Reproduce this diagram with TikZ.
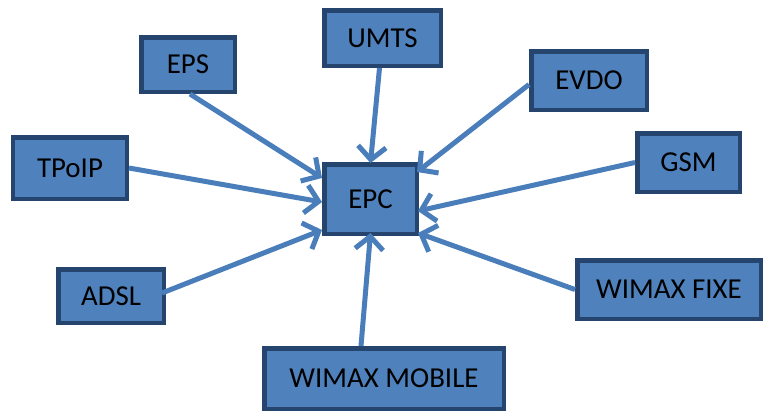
\documentclass[tikz,border=0pt]{standalone}
\usepackage{fontspec}
\setmainfont{Carlito}
\usetikzlibrary{arrows.meta}
\definecolor{boxfill}{HTML}{4F81BD}
\definecolor{boxline}{HTML}{26456E}
\definecolor{arrcol}{HTML}{4A7EBB}
\begin{document}
\begin{tikzpicture}[x=1bp,y=-1bp,
  box/.style={draw=boxline,fill=boxfill,line width=4.5bp,inner sep=0pt,
    font=\fontsize{29}{32}\selectfont,text=black},
  arr/.style={draw=arrcol,line width=5bp,-{Straight Barb[length=13bp,width=28bp,line width=5bp]}}]
\useasboundingbox (0,0) rectangle (763,412);
\fill[white] (0,0) rectangle (763,412);
\node[box,minimum width=93.5bp,minimum height=54.5bp] (eps) at (188,64.5) {EPS};
\node[box,minimum width=116.5bp,minimum height=55.5bp] (umts) at (382.5,38) {UMTS};
\node[box,minimum width=115.5bp,minimum height=58.5bp] (evdo) at (589,80.5) {EVDO};
\node[box,minimum width=113.5bp,minimum height=61.5bp] (tpoip) at (70,168) {TPoIP};
\node[box,minimum width=102.5bp,minimum height=58.5bp] (gsm) at (688.5,162.5) {GSM};
\node[box,minimum width=92.5bp,minimum height=69.5bp] (epc) at (370.5,199) {EPC};
\node[box,minimum width=105.5bp,minimum height=53.5bp] (adsl) at (111,296) {ADSL};
\node[box,minimum width=183.5bp,minimum height=58.5bp] (wfixe) at (669,289.5) {WIMAX FIXE};
\node[box,minimum width=239.5bp,minimum height=60.5bp] (wmob) at (384,378.5) {WIMAX MOBILE};
\draw[arr] ([xshift=2bp]eps.south) -- ([yshift=-16bp]epc.north west);
\draw[arr] ([xshift=-3bp]umts.south) -- ([yshift=-1bp]epc.north);
\draw[arr] ([yshift=-4bp]evdo.west) -- ([xshift=-2bp,yshift=-10bp]epc.north east);
\draw[arr] (tpoip.east) -- ([yshift=-3bp]epc.west);
\draw[arr] (gsm.west) -- ([xshift=-1bp,yshift=-12bp]epc.east);
\draw[arr] ([xshift=-4bp,yshift=3bp]adsl.east) -- ([yshift=6bp]epc.south west);
\draw[arr] ([xshift=-23bp]wmob.north) -- ([yshift=3bp]epc.south);
\draw[arr] (wfixe.west) -- ([xshift=-1bp,yshift=3bp]epc.south east);
\end{tikzpicture}
\end{document}
